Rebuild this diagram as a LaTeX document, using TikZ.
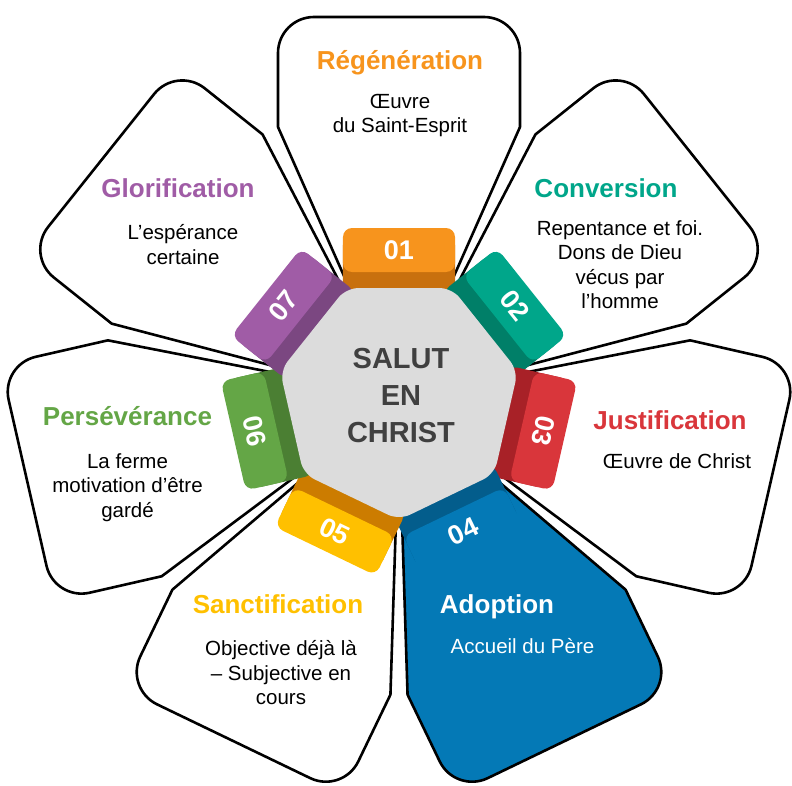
\documentclass[tikz,border=0pt]{standalone}
\usepackage{fontspec}
\setmainfont{Liberation Sans}

\definecolor{regenA}{HTML}{F7941D}
\definecolor{regenB}{HTML}{C8700E}
\definecolor{convA}{HTML}{00A68A}
\definecolor{convB}{HTML}{007F68}
\definecolor{justA}{HTML}{D9363B}
\definecolor{justB}{HTML}{A82127}
\definecolor{adopA}{HTML}{0479B6}
\definecolor{adopB}{HTML}{035D8C}
\definecolor{sanctA}{HTML}{FFC000}
\definecolor{sanctB}{HTML}{CC7C00}
\definecolor{persA}{HTML}{64A646}
\definecolor{persB}{HTML}{4B7F33}
\definecolor{gloA}{HTML}{A05CA6}
\definecolor{gloB}{HTML}{7B4781}
\definecolor{hepta}{HTML}{DCDCDC}
\definecolor{heptatext}{HTML}{404040}

\begin{document}
\begin{tikzpicture}[x=1pt, y=1pt,
    petal/.style={line width=2.6pt, line join=round},
    tabbox/.style={rounded corners=9pt},
    title/.style={font=\fontsize{26}{30}\selectfont\bfseries, anchor=base, inner sep=0pt},
    body/.style={font=\fontsize{20.5}{24.5}\selectfont, align=center, inner sep=0pt},
    num/.style={font=\fontsize{27}{30}\selectfont\bfseries, text=white, inner sep=0pt}]
  \useasboundingbox (-399,-387) rectangle (393,398);

  % petals
  \fill[adopA, rotate=-154.29] (-51,113) -- (-121,271) -- (-121,345)
    .. controls (-121,364.9) and (-104.9,381) .. (-85,381) -- (85,381)
    .. controls (104.9,381) and (121,364.9) .. (121,345) -- (121,271) -- (51,113) -- cycle;
  \foreach \k in {0,...,6}
    \draw[petal, rotate=-51.4286*\k] (-51,113) -- (-121,271) -- (-121,345)
      .. controls (-121,364.9) and (-104.9,381) .. (-85,381) -- (85,381)
      .. controls (104.9,381) and (121,364.9) .. (121,345) -- (121,271) -- (51,113);

  % numbered tabs
  \foreach \a/\lc/\dc/\n/\r in {0/regenA/regenB/01/0, -51.43/convA/convB/02/-51.43,
      -102.86/justA/justB/03/-102.86, -154.29/adopA/adopB/04/25.71,
      -205.71/sanctA/sanctB/05/-25.71, -257.14/persA/persB/06/-77.14,
      -308.57/gloA/gloB/07/51.43} {
    \fill[\dc, tabbox, rotate=\a] (-56,100) rectangle (56,162);
    \fill[\lc, tabbox, rotate=\a] (-56,126) rectangle (56,170);
    \node[num, rotate=\r] (n\n) at (90+\a:148) {\n};
  }

  % centre
  \fill[hepta, rounded corners=12pt] (115.71:122) -- (64.29:122) -- (12.86:122)
    -- (-38.57:122) -- (-90:122) -- (-141.43:122) -- (167.14:122) -- cycle;
  \node[font=\fontsize{29}{37}\selectfont\bfseries, text=heptatext, align=center]
    (salut) at (2,2) {SALUT\\EN\\CHRIST};

  % labels
  \node[title, text=regenA] (regen) at (1,328) {Régénération};
  \node[body] (regentxt) at (1,282.5) {Œuvre\\du Saint-Esprit};
  \node[title, text=convA] (conv) at (207,201) {Conversion};
  \node[body] (convtxt) at (221,133.5) {Repentance et foi.\\Dons de Dieu\\vécus par\\l’homme};
  \node[title, text=justA] (just) at (271,-31) {Justification};
  \node[body, anchor=base] (justtxt) at (278,-70) {Œuvre de Christ};
  \node[title, text=white] (adop) at (98,-215) {Adoption};
  \node[body, anchor=base, text=white] (adoptxt) at (123.5,-255) {Accueil du Père};
  \node[title, text=sanctA] (sanct) at (-121,-215) {Sanctification};
  \node[body] (sancttxt) at (-118,-275) {Objective déjà là\\– Subjective en\\cours};
  \node[title, text=persA] (pers) at (-271.5,-27) {Persévérance};
  \node[body] (perstxt) at (-271.5,-89.5) {La ferme\\motivation d’être\\gardé};
  \node[title, text=gloA] (glo) at (-221,201) {Glorification};
  \node[body] (glotxt) at (-216,153.5) {L’espérance\\certaine};
\end{tikzpicture}
\end{document}
